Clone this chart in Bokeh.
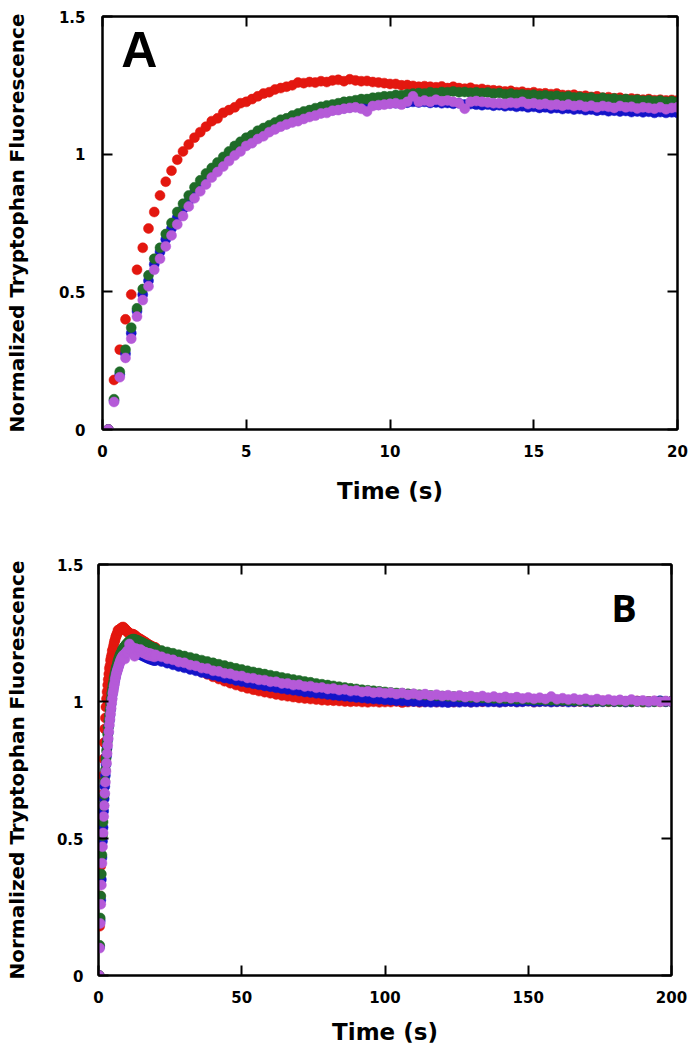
import numpy as np
from bokeh.plotting import figure
from bokeh.models import LinearAxis, FixedTicker, Label, Range1d
from bokeh.embed import file_html
from bokeh.resources import INLINE

# ---------------- data ----------------
# Panel A : sampling every 0.2 s from 0.2 s to 20 s
time_a = np.round(np.arange(1, 101) * 0.2, 1)

red_a = [0.00, 0.18, 0.29, 0.40, 0.49, 0.58, 0.66, 0.73, 0.79, 0.85,
         0.90, 0.94, 0.98, 1.01, 1.035, 1.06, 1.08, 1.10, 1.12, 1.13,
         1.15, 1.16, 1.17, 1.185, 1.19, 1.20, 1.21, 1.22, 1.225, 1.235,
         1.24, 1.245, 1.25, 1.26, 1.258, 1.262, 1.26, 1.265, 1.262, 1.268,
         1.27, 1.265, 1.272, 1.268, 1.265, 1.266, 1.262, 1.26, 1.258, 1.255,
         1.255, 1.25, 1.251, 1.248, 1.245, 1.247, 1.245, 1.243, 1.246, 1.24,
         1.245, 1.24, 1.238, 1.241, 1.235, 1.237, 1.233, 1.232, 1.23, 1.228,
         1.23, 1.225, 1.227, 1.222, 1.225, 1.22, 1.221, 1.218, 1.22, 1.215,
         1.214, 1.216, 1.21, 1.212, 1.208, 1.21, 1.205, 1.207, 1.203, 1.205,
         1.2, 1.202, 1.2, 1.198, 1.2, 1.196, 1.198, 1.195, 1.197, 1.195]

blue_a = [0.00, 0.105, 0.20, 0.275, 0.35, 0.43, 0.49, 0.54, 0.60, 0.645,
          0.69, 0.73, 0.77, 0.80, 0.83, 0.86, 0.885, 0.91, 0.93, 0.95,
          0.97, 0.99, 1.01, 1.025, 1.04, 1.05, 1.065, 1.075, 1.085, 1.095,
          1.105, 1.11, 1.12, 1.125, 1.132, 1.14, 1.145, 1.15, 1.155, 1.16,
          1.163, 1.167, 1.17, 1.172, 1.175, 1.177, 1.18, 1.18, 1.183, 1.185,
          1.185, 1.188, 1.187, 1.19, 1.188, 1.19, 1.186, 1.188, 1.185, 1.186,
          1.183, 1.185, 1.18, 1.182, 1.18, 1.178, 1.18, 1.176, 1.178, 1.174,
          1.176, 1.172, 1.174, 1.17, 1.172, 1.168, 1.17, 1.166, 1.168, 1.164,
          1.166, 1.162, 1.164, 1.16, 1.162, 1.158, 1.16, 1.156, 1.158, 1.155,
          1.157, 1.153, 1.155, 1.152, 1.154, 1.15, 1.153, 1.15, 1.152, 1.15]

green_a = [0.00, 0.11, 0.21, 0.29, 0.37, 0.44, 0.51, 0.56, 0.62, 0.66,
           0.71, 0.75, 0.79, 0.82, 0.85, 0.88, 0.905, 0.93, 0.95, 0.97,
           0.99, 1.01, 1.03, 1.045, 1.06, 1.07, 1.085, 1.095, 1.105, 1.115,
           1.125, 1.13, 1.14, 1.148, 1.155, 1.16, 1.167, 1.172, 1.177, 1.18,
           1.185, 1.19, 1.192, 1.196, 1.2, 1.2, 1.205, 1.207, 1.21, 1.21,
           1.215, 1.214, 1.218, 1.22, 1.222, 1.22, 1.225, 1.222, 1.226, 1.225,
           1.228, 1.225, 1.226, 1.223, 1.225, 1.222, 1.224, 1.22, 1.222, 1.218,
           1.22, 1.216, 1.218, 1.215, 1.216, 1.212, 1.214, 1.21, 1.212, 1.208,
           1.21, 1.206, 1.208, 1.204, 1.206, 1.2, 1.205, 1.2, 1.202, 1.198,
           1.2, 1.196, 1.198, 1.194, 1.196, 1.192, 1.195, 1.19, 1.193, 1.19]

violet_a = [0.00, 0.10, 0.19, 0.26, 0.33, 0.41, 0.47, 0.52, 0.58, 0.62,
            0.665, 0.705, 0.745, 0.775, 0.81, 0.84, 0.865, 0.89, 0.915, 0.935,
            0.955, 0.975, 0.995, 1.01, 1.03, 1.04, 1.055, 1.065, 1.08, 1.09,
            1.1, 1.108, 1.115, 1.12, 1.128, 1.135, 1.14, 1.148, 1.15, 1.158,
            1.16, 1.165, 1.168, 1.17, 1.165, 1.155, 1.175, 1.178, 1.18, 1.183,
            1.185, 1.18, 1.19, 1.21, 1.19, 1.195, 1.19, 1.198, 1.192, 1.195,
            1.19, 1.185, 1.165, 1.19, 1.193, 1.19, 1.188, 1.185, 1.185, 1.183,
            1.187, 1.185, 1.19, 1.182, 1.185, 1.18, 1.183, 1.178, 1.18, 1.176,
            1.18, 1.175, 1.178, 1.172, 1.176, 1.17, 1.175, 1.172, 1.168, 1.175,
            1.17, 1.172, 1.166, 1.17, 1.168, 1.165, 1.17, 1.163, 1.168, 1.17]

# Panel B : same record, continued every 2 s from 22 s to 200 s
time_b_tail = list(range(22, 201, 2))

red_b_tail = [1.183, 1.171, 1.16, 1.149, 1.138, 1.128, 1.118, 1.108, 1.099, 1.09,
              1.082, 1.074, 1.067, 1.06, 1.054, 1.048, 1.043, 1.038, 1.034, 1.03,
              1.026, 1.022, 1.019, 1.016, 1.013, 1.011, 1.009, 1.007, 1.005, 1.004,
              1.003, 1.002, 1.0, 0.999, 1.0, 0.998, 0.997, 0.999, 0.997, 0.998,
              0.998, 1.0, 0.996, 0.998, 1.0, 0.997, 0.999, 1.0, 0.998, 1.0,
              0.999, 0.998, 1.0, 1.001, 0.998, 1.0, 0.999, 1.002, 1.0, 0.998,
              1.0, 1.001, 0.999, 1.0, 1.002, 0.998, 1.0, 1.001, 0.999, 1.0,
              1.0, 1.002, 0.999, 1.0, 1.001, 0.998, 1.0, 1.002, 0.999, 1.0,
              1.001, 0.999, 1.0, 1.002, 0.998, 1.0, 1.001, 0.999, 1.0, 1.0]

blue_b_tail = [1.146, 1.14, 1.134, 1.128, 1.123, 1.117, 1.112, 1.106, 1.101, 1.096,
               1.091, 1.086, 1.082, 1.077, 1.073, 1.069, 1.065, 1.061, 1.057, 1.054,
               1.05, 1.047, 1.044, 1.041, 1.038, 1.035, 1.033, 1.03, 1.028, 1.026,
               1.023, 1.021, 1.019, 1.017, 1.015, 1.013, 1.011, 1.009, 1.008, 1.006,
               1.005, 1.003, 1.002, 1.001, 1.0, 0.999, 0.998, 0.997, 0.998, 0.997,
               0.996, 0.998, 0.997, 0.999, 0.997, 0.998, 1.0, 0.998, 0.999, 0.997,
               0.999, 1.0, 0.998, 0.999, 1.001, 0.998, 0.999, 1.0, 0.998, 0.999,
               1.0, 0.998, 0.999, 1.001, 0.999, 0.998, 1.0, 0.999, 1.001, 0.999,
               1.0, 0.998, 0.999, 1.001, 1.0, 0.998, 1.0, 1.003, 0.999, 1.0]

green_b_tail = [1.186, 1.181, 1.176, 1.171, 1.166, 1.161, 1.156, 1.151, 1.146, 1.141,
                1.136, 1.131, 1.126, 1.121, 1.117, 1.112, 1.108, 1.104, 1.1, 1.096,
                1.092, 1.088, 1.084, 1.08, 1.077, 1.073, 1.07, 1.066, 1.063, 1.06,
                1.057, 1.054, 1.051, 1.048, 1.046, 1.043, 1.041, 1.039, 1.037, 1.035,
                1.033, 1.031, 1.03, 1.028, 1.027, 1.025, 1.024, 1.022, 1.021, 1.02,
                1.019, 1.018, 1.017, 1.016, 1.015, 1.014, 1.013, 1.012, 1.011, 1.01,
                1.01, 1.009, 1.008, 1.008, 1.007, 1.006, 1.006, 1.005, 1.005, 1.004,
                1.004, 1.003, 1.003, 1.002, 1.002, 1.001, 1.001, 1.0, 1.0, 1.0,
                0.999, 1.0, 0.999, 1.0, 0.998, 1.0, 0.999, 1.0, 1.0, 1.0]

violet_b_tail = [1.163, 1.156, 1.152, 1.144, 1.141, 1.133, 1.13, 1.122, 1.12, 1.112,
                 1.11, 1.103, 1.101, 1.094, 1.093, 1.086, 1.085, 1.079, 1.078, 1.072,
                 1.072, 1.066, 1.066, 1.06, 1.061, 1.055, 1.056, 1.05, 1.051, 1.046,
                 1.047, 1.042, 1.044, 1.038, 1.04, 1.035, 1.037, 1.032, 1.034, 1.03,
                 1.032, 1.027, 1.031, 1.025, 1.028, 1.023, 1.027, 1.021, 1.025, 1.02,
                 1.023, 1.018, 1.022, 1.016, 1.02, 1.015, 1.02, 1.014, 1.018, 1.013,
                 1.017, 1.012, 1.016, 1.011, 1.015, 1.01, 1.014, 1.009, 1.018, 1.008,
                 1.012, 1.007, 1.011, 1.006, 1.01, 1.005, 1.009, 1.004, 1.007, 1.003,
                 1.006, 1.002, 1.007, 1.001, 1.004, 1.0, 1.003, 0.999, 1.002, 1.0]

y_ticks = [0, 0.5, 1, 1.5]
y_tick_labels = {0: "0", 0.5: "0.5", 1: "1", 1.5: "1.5"}
x_ticks_a = [0, 5, 10, 15, 20]
x_ticks_b = [0, 50, 100, 150, 200]

colors = {"red": "#e3170f", "blue": "#1414c8", "green": "#1f6b28", "violet": "#b55ad8"}

TICK_FONT = "DejaVu Sans"
LABEL_FONT = "DejaVu Sans"


def style_axes(p, xticks, xmax, ylab_standoff, yaxis_lbl_standoff, xlab_standoff, xaxis_lbl_standoff):
    p.x_range = Range1d(0, xmax)
    p.y_range = Range1d(0, 1.5)
    p.outline_line_color = "black"
    p.outline_line_width = 2
    p.xgrid.visible = False
    p.ygrid.visible = False
    p.background_fill_color = "white"
    p.border_fill_color = "white"
    for ax in p.xaxis:
        ax.ticker = FixedTicker(ticks=xticks)
        ax.axis_label = "Time (s)"
        ax.axis_label_text_font = LABEL_FONT
        ax.axis_label_text_font_style = "bold"
        ax.axis_label_text_font_size = "23px"
        ax.axis_label_text_color = "black"
        ax.axis_label_standoff = xaxis_lbl_standoff
        ax.major_label_standoff = xlab_standoff
    for ax in p.yaxis:
        ax.ticker = FixedTicker(ticks=y_ticks)
        ax.major_label_overrides = y_tick_labels
        ax.axis_label = "Normalized Tryptophan Fluorescence"
        ax.axis_label_text_font = LABEL_FONT
        ax.axis_label_text_font_style = "bold"
        ax.axis_label_text_font_size = "20px"
        ax.axis_label_text_color = "black"
        ax.axis_label_standoff = yaxis_lbl_standoff
        ax.major_label_standoff = ylab_standoff
    for ax in list(p.xaxis) + list(p.yaxis):
        ax.major_label_text_font = TICK_FONT
        ax.major_label_text_font_style = "bold"
        ax.major_label_text_font_size = "15px"
        ax.major_label_text_color = "black"
        ax.axis_line_width = 2
        ax.axis_line_color = "black"
        ax.major_tick_in = 10
        ax.major_tick_out = 0
        ax.major_tick_line_width = 2
        ax.minor_tick_in = 0
        ax.minor_tick_out = 0
    # mirrored inside ticks on top and right (no labels drawn)
    for side, ticks in (("above", xticks), ("right", y_ticks)):
        ax = LinearAxis(ticker=FixedTicker(ticks=ticks), major_label_text_font_size="1px",
                        major_label_text_color=None, major_label_standoff=0,
                        major_tick_in=10, major_tick_out=0, major_tick_line_width=2,
                        minor_tick_in=0, minor_tick_out=0, axis_line_width=2)
        p.add_layout(ax, side)


def draw(p, t, series):
    for name in ["red", "blue", "green", "violet"]:
        p.scatter(t, series[name], size=10, marker="circle",
                  fill_color=colors[name], line_color=colors[name], line_width=0.5)


# ---------------- panel A ----------------
pa = figure(frame_width=575, frame_height=413, output_backend="svg", toolbar_location=None,
            min_border_left=102, min_border_right=13, min_border_top=16, min_border_bottom=125)
style_axes(pa, x_ticks_a, 20, 17, 27, 15, 18)
draw(pa, time_a, {"red": red_a, "blue": blue_a, "green": green_a, "violet": violet_a})
pa.add_layout(Label(x=0.65, y=1.38, text="A", text_font="Liberation Sans",
                    text_font_style="bold", text_font_size="50px", text_color="black",
                    text_baseline="alphabetic", text_align="left"))

# ---------------- panel B ----------------
time_b = list(time_a) + time_b_tail
red_b = red_a + red_b_tail
blue_b = blue_a + blue_b_tail
green_b = green_a + green_b_tail
violet_b = violet_a + violet_b_tail

pb = figure(frame_width=573, frame_height=411, output_backend="svg", toolbar_location=None,
            min_border_left=98, min_border_right=19, min_border_top=10, min_border_bottom=72)
style_axes(pb, x_ticks_b, 200, 15, 25, 15, 13)
draw(pb, time_b, {"red": red_b, "blue": blue_b, "green": green_b, "violet": violet_b})
pb.add_layout(Label(x=179, y=1.345, text="B", text_font="Open Sans",
                    text_font_style="bold", text_font_size="38px", text_color="black",
                    text_baseline="alphabetic", text_align="left"))

# two independent roots stacked vertically (no frame alignment between them)
open("out.html", "w").write(file_html([pa, pb], INLINE))
